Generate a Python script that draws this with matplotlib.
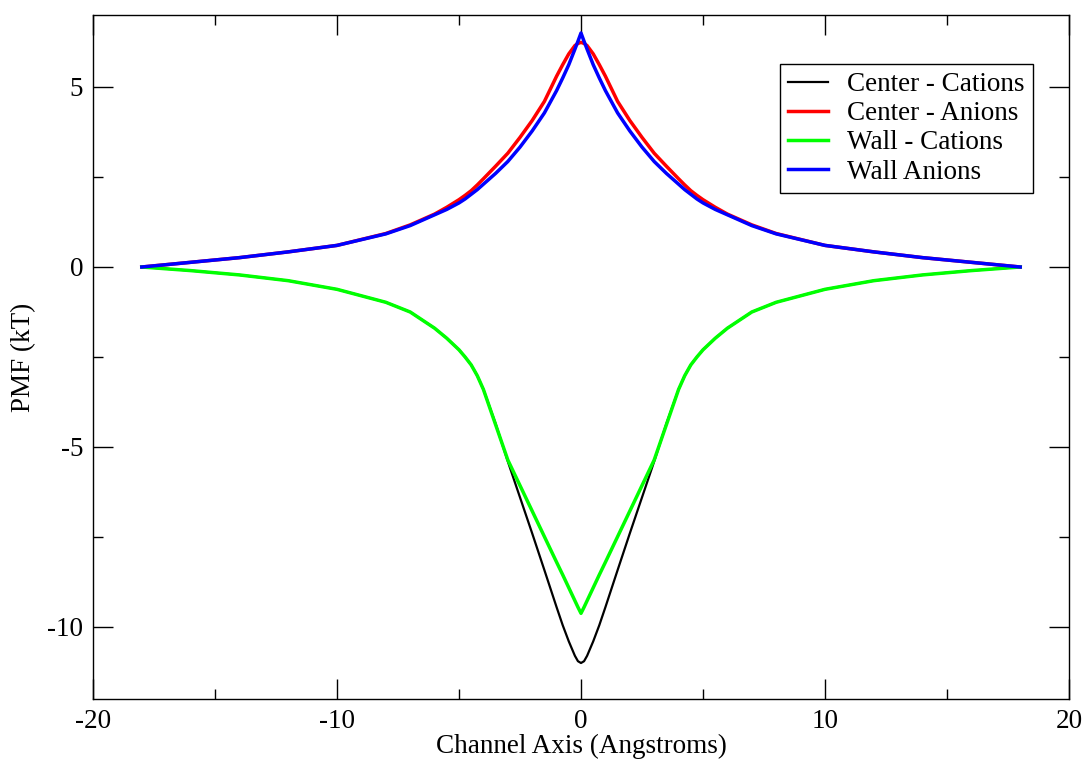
import matplotlib
matplotlib.use("Agg")
import matplotlib.pyplot as plt
from matplotlib.ticker import MultipleLocator

plt.rcParams['font.family'] = ['Liberation Serif', 'DejaVu Serif']
plt.rcParams['axes.unicode_minus'] = False

# channel axis positions (Angstroms)
z = [-18, -16, -14, -12, -10, -8, -7, -6, -5.5, -5, -4.75, -4.5, -4.25, -4, -3.5, -3, -2.5, -2, -1.5, -1, -0.75, -0.5, -0.25, -0.125, 0,
     0.125, 0.25, 0.5, 0.75, 1, 1.5, 2, 2.5, 3, 3.5, 4, 4.25, 4.5, 4.75, 5, 5.5, 6, 7, 8, 10, 12, 14, 16, 18]

center_cations = [0, -0.1, -0.22, -0.38, -0.62, -0.98, -1.25, -1.7, -1.98, -2.3, -2.5, -2.72, -3.02, -3.4, -4.35, -5.4, -6.4, -7.4, -8.42, -9.45, -9.95, -10.4, -10.8, -10.95, -11.0,
                  -10.95, -10.8, -10.4, -9.95, -9.45, -8.42, -7.4, -6.4, -5.4, -4.35, -3.4, -3.02, -2.72, -2.5, -2.3, -1.98, -1.7, -1.25, -0.98, -0.62, -0.38, -0.22, -0.1, 0]
center_anions = [0, 0.13, 0.26, 0.42, 0.6, 0.93, 1.17, 1.47, 1.66, 1.87, 1.99, 2.12, 2.28, 2.45, 2.8, 3.16, 3.6, 4.07, 4.6, 5.3, 5.62, 5.92, 6.15, 6.21, 6.24,
                 6.21, 6.15, 5.92, 5.62, 5.3, 4.6, 4.07, 3.6, 3.16, 2.8, 2.45, 2.28, 2.12, 1.99, 1.87, 1.66, 1.47, 1.17, 0.93, 0.6, 0.42, 0.26, 0.13, 0]
wall_cations = [0, -0.1, -0.22, -0.38, -0.62, -0.98, -1.25, -1.7, -1.98, -2.3, -2.5, -2.72, -3.02, -3.4, -4.38, -5.36, -6.07, -6.78, -7.49, -8.2, -8.55, -8.91, -9.27, -9.45, -9.62,
                -9.45, -9.27, -8.91, -8.55, -8.2, -7.49, -6.78, -6.07, -5.36, -4.38, -3.4, -3.02, -2.72, -2.5, -2.3, -1.98, -1.7, -1.25, -0.98, -0.62, -0.38, -0.22, -0.1, 0]
wall_anions = [0, 0.13, 0.26, 0.42, 0.6, 0.92, 1.15, 1.45, 1.6, 1.78, 1.89, 2.02, 2.15, 2.3, 2.6, 2.93, 3.33, 3.78, 4.28, 4.9, 5.25, 5.62, 6.05, 6.27, 6.5,
               6.27, 6.05, 5.62, 5.25, 4.9, 4.28, 3.78, 3.33, 2.93, 2.6, 2.3, 2.15, 2.02, 1.89, 1.78, 1.6, 1.45, 1.15, 0.92, 0.6, 0.42, 0.26, 0.13, 0]

fig = plt.figure(figsize=(10.87, 7.64), dpi=100)
ax = fig.add_axes([93/1087, 1 - 699/764, (1069 - 93)/1087, (699 - 15)/764])

ax.plot(z, center_cations, color='black', lw=1.6, label='Center - Cations')
ax.plot(z, center_anions, color='#ff0000', lw=2.5, label='Center - Anions')
ax.plot(z, wall_cations, color='#00ff00', lw=2.5, label='Wall - Cations')
ax.plot(z, wall_anions, color='#0000ff', lw=2.5, label='Wall Anions')

ax.set_xlim(-20, 20)
ax.set_ylim(-12, 7)
ax.xaxis.set_major_locator(MultipleLocator(10))
ax.xaxis.set_minor_locator(MultipleLocator(5))
ax.yaxis.set_major_locator(MultipleLocator(5))
ax.yaxis.set_minor_locator(MultipleLocator(2.5))
ax.tick_params(which='both', direction='in', top=True, right=True, labelsize=19.5, width=1)
ax.tick_params(which='major', length=14.4, pad=7)
ax.tick_params(which='minor', length=7.2)
for s in ax.spines.values():
    s.set_linewidth(1)

ax.set_xlabel('Channel Axis (Angstroms)', fontsize=19.5, labelpad=0)
ax.set_ylabel('PMF (kT)', fontsize=19.5, labelpad=8)

leg = ax.legend(loc='upper right', bbox_to_anchor=(0.963, 0.928), fontsize=19.5,
                frameon=True, fancybox=False, edgecolor='black', framealpha=1,
                handlelength=1.5, handletextpad=0.7, borderaxespad=0, borderpad=0.3,
                labelspacing=0.15)
leg.get_frame().set_linewidth(1)

fig.savefig('out.png', dpi=100)
